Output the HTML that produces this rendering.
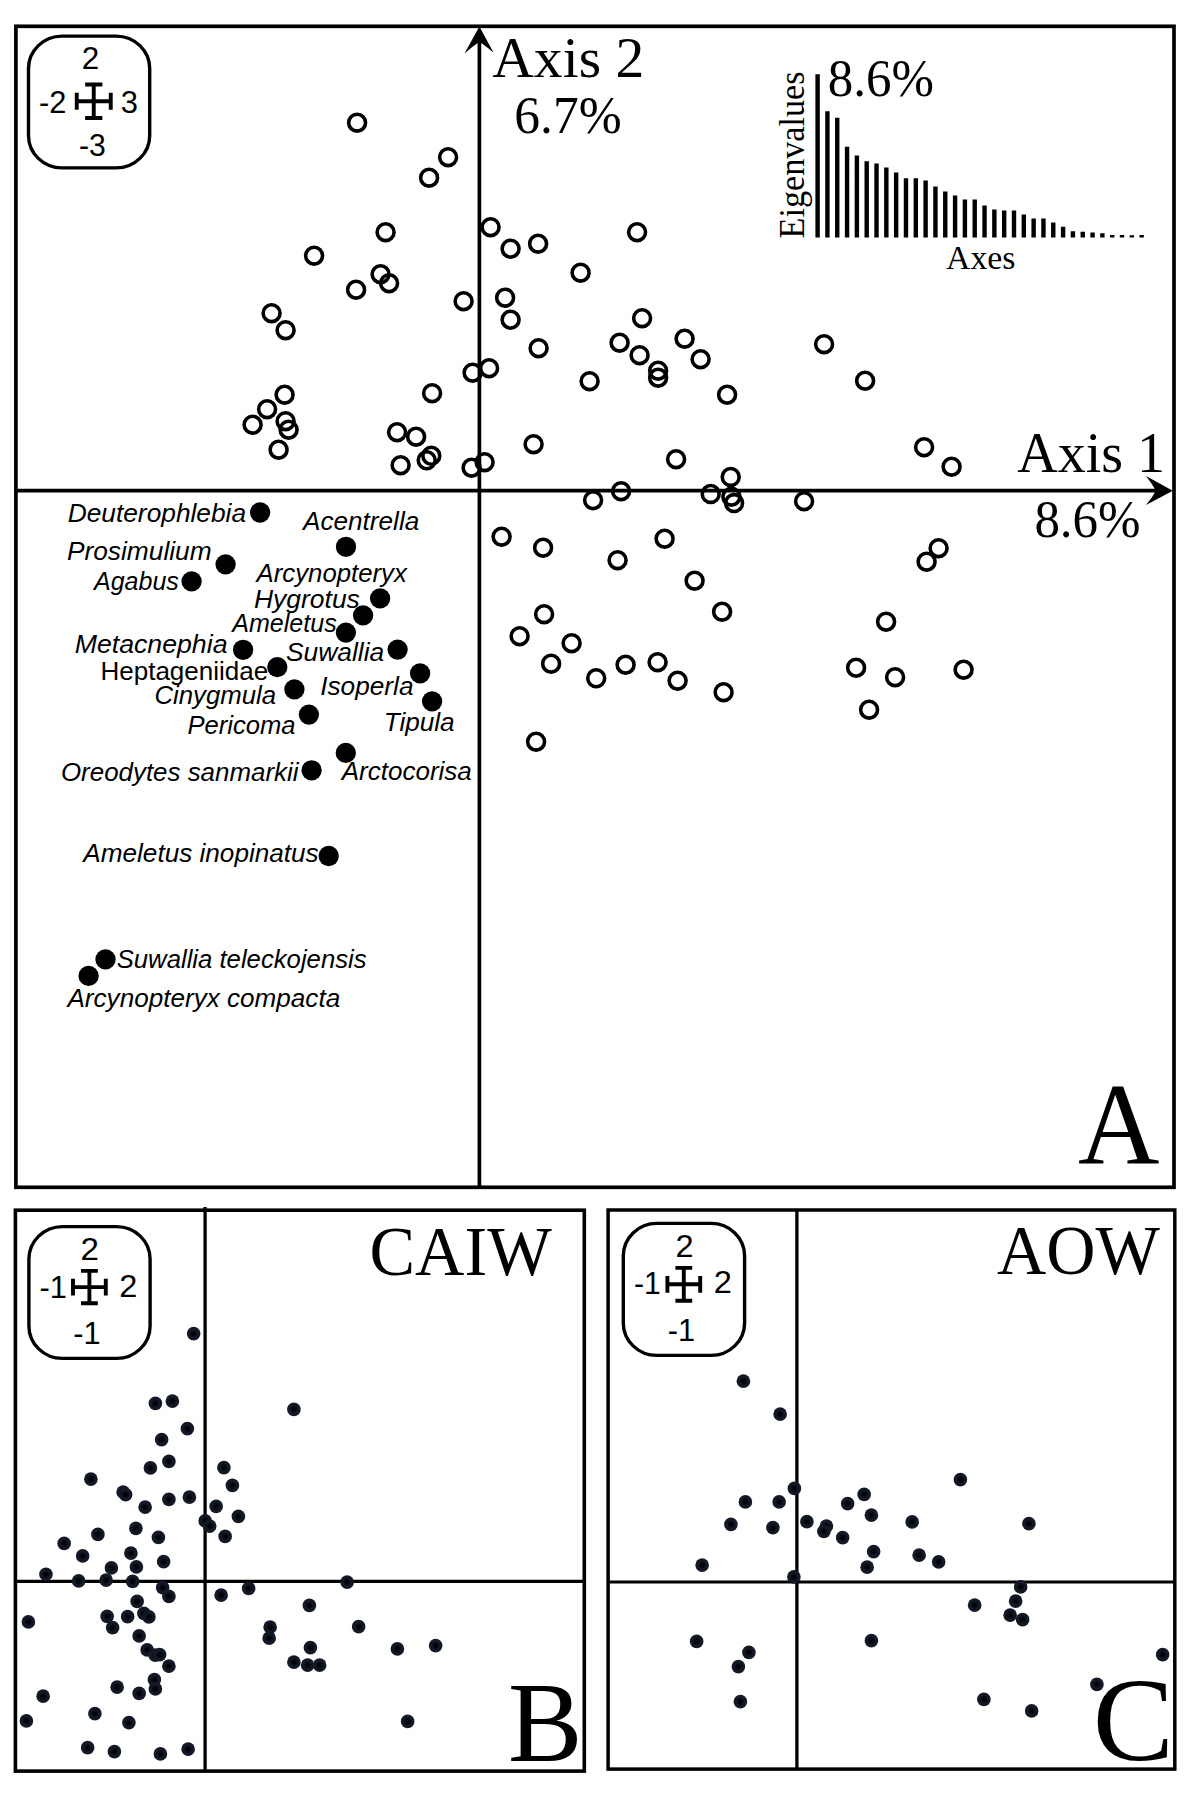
<!DOCTYPE html>
<html lang="en"><head><meta charset="utf-8"><title>Figure</title>
<style>
html,body{margin:0;padding:0;background:#fff}
svg{display:block}
.serif{font-family:"Liberation Serif","DejaVu Serif",serif;fill:#000}
.sans{font-family:"Liberation Sans","DejaVu Sans",sans-serif;fill:#000}
.it{font-style:italic}
.oc{fill:none;stroke:#000;stroke-width:3.6}
.fc{fill:#000}
.dot{fill:url(#dg)}
.ln{stroke:#000;fill:none}
</style></head><body>
<svg width="1200" height="1793" viewBox="0 0 1200 1793">
<defs><radialGradient id="dg"><stop offset="0" stop-color="#000"/><stop offset="0.3" stop-color="#04060c"/><stop offset="0.55" stop-color="#111723"/><stop offset="1" stop-color="#141a28"/></radialGradient></defs>
<rect width="1200" height="1793" fill="#fff"/>

<g id="panelA">
<rect class="ln" x="15.9" y="26.3" width="1158.1" height="1161.0" stroke-width="3.7"/>
<line class="ln" x1="15.9" y1="490.6" x2="1158" y2="490.6" stroke-width="3.7"/>
<line class="ln" x1="479.4" y1="40" x2="479.4" y2="1187" stroke-width="3.7"/>
<path class="fc" d="M479.4 26.6 L493.6 52.8 Q486.5 46.5 479.4 41.8 Q472 46.8 464.5 53.6 Z"/>
<path class="fc" d="M1172.8 490.7 L1146 476 Q1152 483.5 1155.9 490.7 Q1152 498 1146 505 Z"/>
<rect class="ln" x="28.5" y="36.1" width="121.2" height="131.8" rx="33.5" ry="32.5" stroke-width="3.4"/>
<path class="ln" stroke-width="3.9" d="M76.75 101.25H110.75M93.75 84.5V118.0M76.75 92.65V109.85M110.75 92.65V109.85M85.15 84.5H102.35M85.15 118.0H102.35"/>
<text class="sans" font-size="32" x="81.79" y="68.5" textLength="17.48" lengthAdjust="spacingAndGlyphs">2</text>
<text class="sans" font-size="32" x="39.04" y="112.5" textLength="27.36" lengthAdjust="spacingAndGlyphs">-2</text>
<text class="sans" font-size="32" x="120.78" y="112.5" textLength="17.2" lengthAdjust="spacingAndGlyphs">3</text>
<text class="sans" font-size="32" x="79.06" y="156.25" textLength="26.81" lengthAdjust="spacingAndGlyphs">-3</text>
<text class="serif" font-size="57" x="492.29" y="77" textLength="151.98" lengthAdjust="spacingAndGlyphs">Axis 2</text>
<text class="serif" font-size="53.5" x="514.27" y="133.3" textLength="107.43" lengthAdjust="spacingAndGlyphs">6.7%</text>
<text class="serif" font-size="57" x="1017.32" y="471.5" textLength="147.76" lengthAdjust="spacingAndGlyphs">Axis 1</text>
<text class="serif" font-size="53.5" x="1034.39" y="536.7" textLength="106.19" lengthAdjust="spacingAndGlyphs">8.6%</text>
<text class="serif" font-size="116" x="1077.93" y="1163.7" textLength="81.53" lengthAdjust="spacingAndGlyphs">A</text>
<text class="serif" font-size="53.5" x="827.8" y="96.3" textLength="106.09" lengthAdjust="spacingAndGlyphs">8.6%</text>
<text class="serif" font-size="32.8" x="946.0" y="268.8" textLength="69.45" lengthAdjust="spacingAndGlyphs">Axes</text>
<g transform="translate(804.2 237.5) rotate(-90)"><text class="serif" font-size="35" x="-0.98" y="0" textLength="167.01" lengthAdjust="spacingAndGlyphs">Eigenvalues</text></g>
<path class="fc" d="M815.40 237.5v-163.3h4.4v163.3zM825.22 237.5v-126.3h4.4v126.3zM835.04 237.5v-119.7h4.4v119.7zM844.86 237.5v-90.7h4.4v90.7zM854.68 237.5v-82.0h4.4v82.0zM864.50 237.5v-76.3h4.4v76.3zM874.32 237.5v-74.0h4.4v74.0zM884.14 237.5v-70.0h4.4v70.0zM893.96 237.5v-65.0h4.4v65.0zM903.78 237.5v-59.3h4.4v59.3zM913.60 237.5v-59.3h4.4v59.3zM923.42 237.5v-57.0h4.4v57.0zM933.24 237.5v-51.0h4.4v51.0zM943.06 237.5v-46.0h4.4v46.0zM952.88 237.5v-42.0h4.4v42.0zM962.70 237.5v-38.0h4.4v38.0zM972.52 237.5v-38.0h4.4v38.0zM982.34 237.5v-32.0h4.4v32.0zM992.16 237.5v-28.0h4.4v28.0zM1001.98 237.5v-27.0h4.4v27.0zM1011.80 237.5v-27.0h4.4v27.0zM1021.62 237.5v-23.0h4.4v23.0zM1031.44 237.5v-19.0h4.4v19.0zM1041.26 237.5v-19.0h4.4v19.0zM1051.08 237.5v-15.0h4.4v15.0zM1060.90 237.5v-10.7h4.4v10.7zM1070.72 237.5v-6.2h4.4v6.2zM1080.54 237.5v-5.8h4.4v5.8zM1090.36 237.5v-5.0h4.4v5.0zM1100.18 237.5v-4.2h4.4v4.2zM1110.00 237.5v-2.6h4.4v2.6zM1119.82 237.5v-2.4h4.4v2.4zM1129.64 237.5v-2.3h4.4v2.3zM1139.46 237.5v-2.5h4.4v2.5z"/>
<g class="oc"><circle cx="357.10" cy="122.65" r="8.45"/><circle cx="448.10" cy="157.15" r="8.45"/><circle cx="429.10" cy="177.65" r="8.45"/><circle cx="385.60" cy="232.15" r="8.45"/><circle cx="314.10" cy="255.65" r="8.45"/><circle cx="380.60" cy="274.15" r="8.45"/><circle cx="389.10" cy="283.15" r="8.45"/><circle cx="356.10" cy="289.65" r="8.45"/><circle cx="271.60" cy="313.15" r="8.45"/><circle cx="285.60" cy="330.15" r="8.45"/><circle cx="490.60" cy="227.15" r="8.45"/><circle cx="510.60" cy="248.65" r="8.45"/><circle cx="538.10" cy="243.65" r="8.45"/><circle cx="580.60" cy="272.65" r="8.45"/><circle cx="463.60" cy="301.15" r="8.45"/><circle cx="505.10" cy="297.65" r="8.45"/><circle cx="510.60" cy="319.65" r="8.45"/><circle cx="538.60" cy="348.15" r="8.45"/><circle cx="472.60" cy="372.65" r="8.45"/><circle cx="489.10" cy="368.15" r="8.45"/><circle cx="589.60" cy="381.15" r="8.45"/><circle cx="432.10" cy="393.15" r="8.45"/><circle cx="284.60" cy="394.65" r="8.45"/><circle cx="267.10" cy="409.15" r="8.45"/><circle cx="252.60" cy="424.65" r="8.45"/><circle cx="285.60" cy="421.15" r="8.45"/><circle cx="288.60" cy="429.65" r="8.45"/><circle cx="278.60" cy="449.65" r="8.45"/><circle cx="397.10" cy="432.15" r="8.45"/><circle cx="416.10" cy="436.65" r="8.45"/><circle cx="400.60" cy="465.15" r="8.45"/><circle cx="426.70" cy="460.25" r="8.45"/><circle cx="431.30" cy="455.75" r="8.45"/><circle cx="471.60" cy="467.65" r="8.45"/><circle cx="484.60" cy="462.15" r="8.45"/><circle cx="533.60" cy="444.15" r="8.45"/><circle cx="637.10" cy="232.15" r="8.45"/><circle cx="642.10" cy="318.15" r="8.45"/><circle cx="619.60" cy="342.65" r="8.45"/><circle cx="639.60" cy="355.15" r="8.45"/><circle cx="658.10" cy="370.65" r="8.45"/><circle cx="658.10" cy="377.65" r="8.45"/><circle cx="684.60" cy="338.65" r="8.45"/><circle cx="700.60" cy="359.15" r="8.45"/><circle cx="727.10" cy="394.65" r="8.45"/><circle cx="824.10" cy="344.15" r="8.45"/><circle cx="865.10" cy="380.65" r="8.45"/><circle cx="924.10" cy="447.15" r="8.45"/><circle cx="951.60" cy="466.65" r="8.45"/><circle cx="676.10" cy="459.15" r="8.45"/><circle cx="730.70" cy="476.95" r="8.45"/><circle cx="621.10" cy="491.15" r="8.45"/><circle cx="710.70" cy="493.95" r="8.45"/><circle cx="731.40" cy="496.65" r="8.45"/><circle cx="734.10" cy="503.05" r="8.45"/><circle cx="804.10" cy="501.15" r="8.45"/><circle cx="593.10" cy="500.15" r="8.45"/><circle cx="664.60" cy="538.65" r="8.45"/><circle cx="617.60" cy="560.15" r="8.45"/><circle cx="694.60" cy="580.65" r="8.45"/><circle cx="722.10" cy="611.65" r="8.45"/><circle cx="938.60" cy="548.15" r="8.45"/><circle cx="926.60" cy="561.65" r="8.45"/><circle cx="886.10" cy="621.65" r="8.45"/><circle cx="625.60" cy="664.65" r="8.45"/><circle cx="657.60" cy="662.15" r="8.45"/><circle cx="677.60" cy="680.65" r="8.45"/><circle cx="596.20" cy="678.25" r="8.45"/><circle cx="723.60" cy="692.15" r="8.45"/><circle cx="856.10" cy="667.65" r="8.45"/><circle cx="895.10" cy="677.15" r="8.45"/><circle cx="963.60" cy="669.65" r="8.45"/><circle cx="869.10" cy="709.65" r="8.45"/><circle cx="501.60" cy="536.65" r="8.45"/><circle cx="543.10" cy="547.65" r="8.45"/><circle cx="544.10" cy="614.15" r="8.45"/><circle cx="519.60" cy="636.15" r="8.45"/><circle cx="571.60" cy="643.15" r="8.45"/><circle cx="551.10" cy="663.65" r="8.45"/><circle cx="536.10" cy="741.65" r="8.45"/></g>
<g class="fc"><circle cx="260.1" cy="512.5" r="10.15"/><circle cx="346" cy="546.8" r="10.15"/><circle cx="225.6" cy="564.4" r="10.15"/><circle cx="191.6" cy="581.4" r="10.15"/><circle cx="380.1" cy="598.4" r="10.15"/><circle cx="363.1" cy="615.4" r="10.15"/><circle cx="345.9" cy="632.6" r="10.15"/><circle cx="243.1" cy="649.8" r="10.15"/><circle cx="397.6" cy="649.6" r="10.15"/><circle cx="277.3" cy="667.1" r="10.15"/><circle cx="420.1" cy="673.4" r="10.15"/><circle cx="294.4" cy="689.4" r="10.15"/><circle cx="432.1" cy="701.4" r="10.15"/><circle cx="308.9" cy="714.6" r="10.15"/><circle cx="345.8" cy="752.9" r="10.15"/><circle cx="311.6" cy="770.3" r="10.15"/><circle cx="328.7" cy="856" r="10.15"/></g>
<circle class="fc" cx="105.5" cy="959.4" r="10.15"/><circle class="fc" cx="88.6" cy="975.9" r="10.15"/>
<text class="sans it" font-size="25" x="67.7" y="521.5" textLength="178.41" lengthAdjust="spacingAndGlyphs">Deuterophlebia</text>
<text class="sans it" font-size="25" x="303.05" y="530" textLength="116.18" lengthAdjust="spacingAndGlyphs">Acentrella</text>
<text class="sans it" font-size="25" x="66.95" y="560" textLength="144.66" lengthAdjust="spacingAndGlyphs">Prosimulium</text>
<text class="sans it" font-size="25" x="94.0" y="590" textLength="84.8" lengthAdjust="spacingAndGlyphs">Agabus</text>
<text class="sans it" font-size="25" x="256.53" y="582" textLength="150.36" lengthAdjust="spacingAndGlyphs">Arcynopteryx</text>
<text class="sans it" font-size="25" x="253.94" y="607.5" textLength="105.92" lengthAdjust="spacingAndGlyphs">Hygrotus</text>
<text class="sans it" font-size="25" x="232.25" y="632" textLength="104.47" lengthAdjust="spacingAndGlyphs">Ameletus</text>
<text class="sans it" font-size="25" x="74.68" y="652.5" textLength="152.8" lengthAdjust="spacingAndGlyphs">Metacnephia</text>
<text class="sans it" font-size="25" x="285.95" y="661.25" textLength="98.23" lengthAdjust="spacingAndGlyphs">Suwallia</text>
<text class="sans" font-size="25" x="100.42" y="680" textLength="167.88" lengthAdjust="spacingAndGlyphs">Heptageniidae</text>
<text class="sans it" font-size="25" x="320.2" y="695" textLength="93.3" lengthAdjust="spacingAndGlyphs">Isoperla</text>
<text class="sans it" font-size="25" x="154.47" y="703.75" textLength="121.67" lengthAdjust="spacingAndGlyphs">Cinygmula</text>
<text class="sans it" font-size="25" x="383.66" y="730.5" textLength="71.01" lengthAdjust="spacingAndGlyphs">Tipula</text>
<text class="sans it" font-size="25" x="187.48" y="734" textLength="108.13" lengthAdjust="spacingAndGlyphs">Pericoma</text>
<text class="sans it" font-size="25" x="341.74" y="779.75" textLength="130.05" lengthAdjust="spacingAndGlyphs">Arctocorisa</text>
<text class="sans it" font-size="25" x="60.96" y="780.5" textLength="237.56" lengthAdjust="spacingAndGlyphs">Oreodytes sanmarkii</text>
<text class="sans it" font-size="25" x="83.35" y="861.75" textLength="235.3" lengthAdjust="spacingAndGlyphs">Ameletus inopinatus</text>
<text class="sans it" font-size="25" x="116.67" y="968.4" textLength="249.92" lengthAdjust="spacingAndGlyphs">Suwallia teleckojensis</text>
<text class="sans it" font-size="25" x="67.44" y="1006.7" textLength="272.73" lengthAdjust="spacingAndGlyphs">Arcynopteryx compacta</text>
</g>
<g id="panelB">
<rect class="ln" x="15.4" y="1210.2" width="568.9" height="560.9" stroke-width="3.6"/>
<line class="ln" x1="205.1" y1="1207" x2="205.1" y2="1771" stroke-width="3.3"/>
<line class="ln" x1="15.5" y1="1581.3" x2="584.5" y2="1581.3" stroke-width="3.2"/>
<rect class="ln" x="28.9" y="1226.6" width="121.2" height="131.8" rx="33.5" ry="32.5" stroke-width="3.4"/>
<path class="ln" stroke-width="3.9" d="M73.0 1287.1H105.80000000000001M89.4 1270.8999999999999V1303.3M73.0 1278.6999999999998V1295.5M105.80000000000001 1278.6999999999998V1295.5M81.0 1270.8999999999999H97.80000000000001M81.0 1303.3H97.80000000000001"/>
<text class="sans" font-size="32" x="80.43" y="1260" textLength="18.43" lengthAdjust="spacingAndGlyphs">2</text>
<text class="sans" font-size="32" x="39.54" y="1297.5" textLength="27.36" lengthAdjust="spacingAndGlyphs">-1</text>
<text class="sans" font-size="32" x="119.21" y="1297" textLength="18.11" lengthAdjust="spacingAndGlyphs">2</text>
<text class="sans" font-size="32" x="73.29" y="1343.5" textLength="27.36" lengthAdjust="spacingAndGlyphs">-1</text>
<text class="serif" font-size="69" x="369.53" y="1274.5" textLength="182.14" lengthAdjust="spacingAndGlyphs">CAIW</text>
<text class="serif" font-size="113.3" x="508.04" y="1761.2" textLength="74.45" lengthAdjust="spacingAndGlyphs">B</text>
<g class="dot"><circle cx="193.65" cy="1333.65" r="6.8"/><circle cx="155.40" cy="1403.40" r="6.8"/><circle cx="172.40" cy="1401.15" r="6.8"/><circle cx="187.40" cy="1428.65" r="6.8"/><circle cx="161.65" cy="1439.65" r="6.8"/><circle cx="168.90" cy="1461.40" r="6.8"/><circle cx="150.40" cy="1467.90" r="6.8"/><circle cx="90.90" cy="1479.15" r="6.8"/><circle cx="123.15" cy="1492.15" r="6.8"/><circle cx="125.65" cy="1494.65" r="6.8"/><circle cx="145.15" cy="1507.15" r="6.8"/><circle cx="168.90" cy="1499.40" r="6.8"/><circle cx="189.40" cy="1497.15" r="6.8"/><circle cx="223.90" cy="1467.65" r="6.8"/><circle cx="232.40" cy="1485.40" r="6.8"/><circle cx="216.15" cy="1506.40" r="6.8"/><circle cx="238.40" cy="1516.40" r="6.8"/><circle cx="205.15" cy="1520.90" r="6.8"/><circle cx="209.65" cy="1526.15" r="6.8"/><circle cx="225.15" cy="1536.40" r="6.8"/><circle cx="135.90" cy="1528.40" r="6.8"/><circle cx="158.40" cy="1537.40" r="6.8"/><circle cx="97.90" cy="1534.40" r="6.8"/><circle cx="64.15" cy="1543.40" r="6.8"/><circle cx="82.65" cy="1555.90" r="6.8"/><circle cx="130.90" cy="1553.15" r="6.8"/><circle cx="163.65" cy="1561.65" r="6.8"/><circle cx="111.40" cy="1567.90" r="6.8"/><circle cx="136.40" cy="1566.90" r="6.8"/><circle cx="45.95" cy="1574.25" r="6.8"/><circle cx="293.90" cy="1409.40" r="6.8"/><circle cx="78.65" cy="1580.90" r="6.8"/><circle cx="106.15" cy="1580.15" r="6.8"/><circle cx="132.65" cy="1581.40" r="6.8"/><circle cx="162.65" cy="1587.65" r="6.8"/><circle cx="168.90" cy="1596.40" r="6.8"/><circle cx="137.15" cy="1601.40" r="6.8"/><circle cx="107.15" cy="1616.40" r="6.8"/><circle cx="127.65" cy="1616.65" r="6.8"/><circle cx="143.90" cy="1613.40" r="6.8"/><circle cx="148.90" cy="1616.90" r="6.8"/><circle cx="112.65" cy="1627.65" r="6.8"/><circle cx="28.40" cy="1621.90" r="6.8"/><circle cx="139.15" cy="1635.90" r="6.8"/><circle cx="147.15" cy="1649.90" r="6.8"/><circle cx="155.15" cy="1655.15" r="6.8"/><circle cx="159.65" cy="1654.65" r="6.8"/><circle cx="168.90" cy="1666.15" r="6.8"/><circle cx="154.40" cy="1679.65" r="6.8"/><circle cx="155.40" cy="1688.90" r="6.8"/><circle cx="117.15" cy="1687.15" r="6.8"/><circle cx="139.15" cy="1693.40" r="6.8"/><circle cx="43.15" cy="1696.15" r="6.8"/><circle cx="94.90" cy="1713.65" r="6.8"/><circle cx="26.40" cy="1720.90" r="6.8"/><circle cx="128.90" cy="1722.65" r="6.8"/><circle cx="87.65" cy="1747.65" r="6.8"/><circle cx="114.40" cy="1751.65" r="6.8"/><circle cx="160.40" cy="1753.90" r="6.8"/><circle cx="188.15" cy="1749.15" r="6.8"/><circle cx="221.15" cy="1595.15" r="6.8"/><circle cx="248.65" cy="1588.40" r="6.8"/><circle cx="270.15" cy="1627.15" r="6.8"/><circle cx="269.15" cy="1638.15" r="6.8"/><circle cx="293.90" cy="1662.15" r="6.8"/><circle cx="347.15" cy="1582.15" r="6.8"/><circle cx="309.40" cy="1605.40" r="6.8"/><circle cx="358.65" cy="1626.65" r="6.8"/><circle cx="310.40" cy="1647.65" r="6.8"/><circle cx="397.40" cy="1648.90" r="6.8"/><circle cx="435.65" cy="1645.65" r="6.8"/><circle cx="307.65" cy="1665.15" r="6.8"/><circle cx="319.65" cy="1665.15" r="6.8"/><circle cx="407.65" cy="1721.40" r="6.8"/></g>
</g>
<g id="panelC">
<rect class="ln" x="608.1" y="1210" width="566.7" height="559.1" stroke-width="3.5"/>
<line class="ln" x1="796.9" y1="1210" x2="796.9" y2="1769" stroke-width="3.3"/>
<line class="ln" x1="608" y1="1582" x2="1175" y2="1582" stroke-width="3.2"/>
<rect class="ln" x="623.3" y="1223.4" width="121.3" height="132" rx="33.5" ry="32.5" stroke-width="3.4"/>
<path class="ln" stroke-width="3.9" d="M667.4 1284.3H700.1999999999999M683.8 1267.8999999999999V1300.7M667.4 1275.8999999999999V1292.7M700.1999999999999 1275.8999999999999V1292.7M675.4 1267.8999999999999H692.1999999999999M675.4 1300.7H692.1999999999999"/>
<text class="sans" font-size="32" x="675.46" y="1257" textLength="18.11" lengthAdjust="spacingAndGlyphs">2</text>
<text class="sans" font-size="32" x="634.06" y="1294.25" textLength="26.81" lengthAdjust="spacingAndGlyphs">-1</text>
<text class="sans" font-size="32" x="713.71" y="1293.25" textLength="18.11" lengthAdjust="spacingAndGlyphs">2</text>
<text class="sans" font-size="32" x="667.79" y="1340.5" textLength="27.36" lengthAdjust="spacingAndGlyphs">-1</text>
<text class="serif" font-size="69" x="996.91" y="1274.2" textLength="162.89" lengthAdjust="spacingAndGlyphs">AOW</text>
<text class="serif" font-size="119" x="1092.89" y="1759.5" textLength="81.13" lengthAdjust="spacingAndGlyphs">C</text>
<g class="dot"><circle cx="743.40" cy="1381.15" r="6.8"/><circle cx="780.15" cy="1414.15" r="6.8"/><circle cx="794.40" cy="1488.40" r="6.8"/><circle cx="745.40" cy="1501.90" r="6.8"/><circle cx="779.15" cy="1501.90" r="6.8"/><circle cx="864.15" cy="1494.40" r="6.8"/><circle cx="847.65" cy="1503.65" r="6.8"/><circle cx="871.40" cy="1515.15" r="6.8"/><circle cx="730.90" cy="1524.40" r="6.8"/><circle cx="772.90" cy="1527.65" r="6.8"/><circle cx="806.90" cy="1521.65" r="6.8"/><circle cx="826.40" cy="1526.15" r="6.8"/><circle cx="823.90" cy="1531.40" r="6.8"/><circle cx="842.65" cy="1537.65" r="6.8"/><circle cx="873.65" cy="1551.65" r="6.8"/><circle cx="867.15" cy="1567.15" r="6.8"/><circle cx="702.15" cy="1565.15" r="6.8"/><circle cx="793.90" cy="1576.90" r="6.8"/><circle cx="696.65" cy="1641.40" r="6.8"/><circle cx="748.90" cy="1652.40" r="6.8"/><circle cx="738.40" cy="1666.65" r="6.8"/><circle cx="740.40" cy="1701.65" r="6.8"/><circle cx="871.40" cy="1640.65" r="6.8"/><circle cx="960.40" cy="1479.65" r="6.8"/><circle cx="912.15" cy="1521.90" r="6.8"/><circle cx="1028.90" cy="1523.65" r="6.8"/><circle cx="919.15" cy="1555.15" r="6.8"/><circle cx="938.65" cy="1561.90" r="6.8"/><circle cx="1020.65" cy="1586.90" r="6.8"/><circle cx="1015.65" cy="1601.15" r="6.8"/><circle cx="974.65" cy="1605.15" r="6.8"/><circle cx="1010.15" cy="1615.15" r="6.8"/><circle cx="1022.65" cy="1619.65" r="6.8"/><circle cx="1162.65" cy="1654.65" r="6.8"/><circle cx="1096.90" cy="1684.40" r="6.8"/><circle cx="983.90" cy="1699.40" r="6.8"/><circle cx="1031.65" cy="1710.90" r="6.8"/></g>
</g>
</svg></body></html>
